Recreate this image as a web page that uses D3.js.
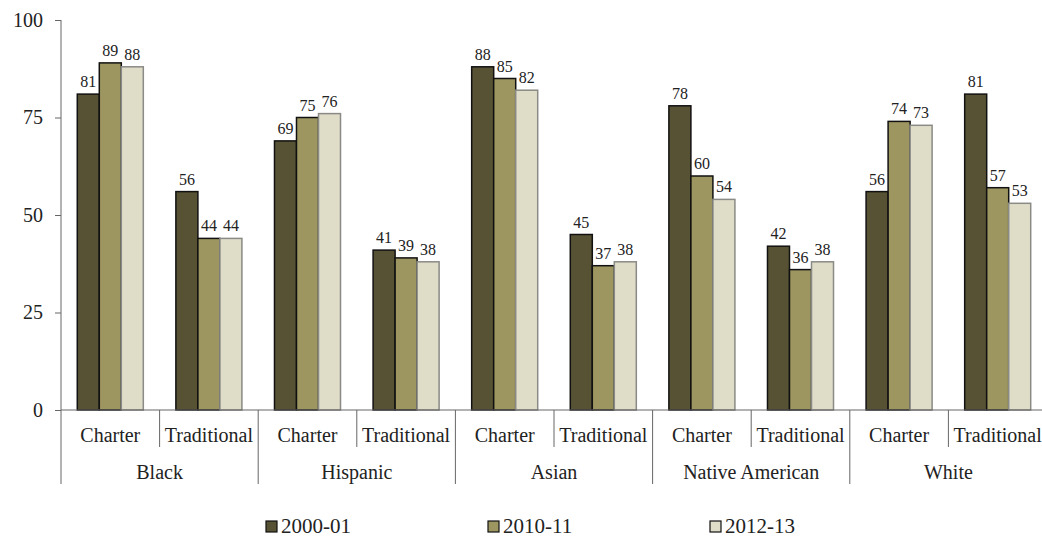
<!DOCTYPE html>
<html>
<head>
<meta charset="utf-8">
<script src="https://cdn.jsdelivr.net/npm/d3@7"></script>
<style>
  body { margin: 0; background: #fff; }
  svg text { font-family: "Liberation Serif", "DejaVu Serif", serif; fill: #222; }
</style>
</head>
<body>
<div id="chart"></div>
<script>
// data
const groups = ["Black", "Hispanic", "Asian", "Native American", "White"];
const schoolTypes = ["Charter", "Traditional"];
const series = ["2000-01", "2010-11", "2012-13"];
const yTicks = [0, 25, 50, 75, 100];

const v2000 = [81, 56, 69, 41, 88, 45, 78, 42, 56, 81];
const v2010 = [89, 44, 75, 39, 85, 37, 60, 36, 74, 57];
const v2012 = [88, 44, 76, 38, 82, 38, 54, 38, 73, 53];

const fills = ["#575234", "#9d9661", "#dfdcc8"];
const strokes = ["#111", "#111", "#8a8a86"];

const width = 1042, height = 538;
const plotLeft = 61, plotRight = 1047, plotTop = 20, plotBase = 410;
const serif = "'Liberation Serif', 'DejaVu Serif', serif";

const svg = d3.select("#chart").append("svg")
    .attr("width", width)
    .attr("height", height)
    .attr("font-family", serif);

// categories = every group x school type
const cats = [];
groups.forEach(g => schoolTypes.forEach(t => cats.push(g + "|" + t)));

const x = d3.scaleBand().domain(cats).range([plotLeft, plotRight]);
const xs = d3.scaleBand().domain(series).range([0, x.bandwidth()]).paddingOuter(0.74);
const y = d3.scaleLinear().domain([0, 100]).range([plotBase, plotTop]);

const values = [v2000, v2010, v2012];
const rows = [];
cats.forEach((c, i) => {
    series.forEach((s, j) => rows.push({ cat: c, s: s, j: j, v: values[j][i] }));
});

// bars
svg.append("g").selectAll("rect")
    .data(rows)
    .enter().append("rect")
    .attr("x", d => x(d.cat) + xs(d.s))
    .attr("y", d => y(d.v))
    .attr("width", xs.bandwidth())
    .attr("height", d => plotBase - y(d.v))
    .attr("fill", d => fills[d.j])
    .attr("stroke", d => strokes[d.j])
    .attr("stroke-width", 1.5);

// value labels
svg.append("g").selectAll("text")
    .data(rows)
    .enter().append("text")
    .attr("x", d => x(d.cat) + xs(d.s) + xs.bandwidth() / 2)
    .attr("y", d => y(d.v) - 7)
    .attr("text-anchor", "middle")
    .style("font-family", serif)
    .style("font-size", "16px")
    .text(d => d.v);

// y axis
const yAxis = svg.append("g").attr("transform", `translate(${plotLeft},0)`)
    .call(d3.axisLeft(y).tickValues(yTicks).tickSize(6).tickPadding(12));
yAxis.attr("font-family", serif);
yAxis.select(".domain").remove();
yAxis.selectAll("line").attr("stroke", "#666");
yAxis.selectAll("text")
    .style("font-size", "20px")
    .style("font-family", serif)
    .attr("fill", "#222");

svg.append("line")
    .attr("x1", plotLeft).attr("x2", plotLeft)
    .attr("y1", plotTop).attr("y2", 484)
    .attr("stroke", "#666");

// baseline
svg.append("line")
    .attr("x1", plotLeft).attr("x2", plotRight)
    .attr("y1", plotBase).attr("y2", plotBase)
    .attr("stroke", "#666");

// category dividers and labels
const gw = x.bandwidth() * 2;
groups.forEach((g, gi) => {
    const gx = x(g + "|Charter");
    svg.append("line")
        .attr("x1", gx + gw).attr("x2", gx + gw)
        .attr("y1", plotBase).attr("y2", 484)
        .attr("stroke", "#666");
    svg.append("line")
        .attr("x1", gx + x.bandwidth()).attr("x2", gx + x.bandwidth())
        .attr("y1", plotBase).attr("y2", 447)
        .attr("stroke", "#666");
    schoolTypes.forEach(t => {
        svg.append("text")
            .attr("x", x(g + "|" + t) + x.bandwidth() / 2)
            .attr("y", 442)
            .attr("text-anchor", "middle")
            .style("font-family", serif)
            .style("font-size", "20px")
            .text(t);
    });
    svg.append("text")
        .attr("x", gx + gw / 2)
        .attr("y", 479)
        .attr("text-anchor", "middle")
        .style("font-family", serif)
        .style("font-size", "20px")
        .text(g);
});

// legend
const legend = svg.append("g").selectAll("g")
    .data(series)
    .enter().append("g")
    .attr("transform", (d, i) => `translate(${266 + i * 222},521)`);

legend.append("rect")
    .attr("width", 11).attr("height", 11)
    .attr("fill", (d, i) => fills[i])
    .attr("stroke", "#111")
    .attr("stroke-width", 1.2);

legend.append("text")
    .attr("x", 15)
    .attr("y", 12)
    .style("font-family", serif)
    .style("font-size", "21px")
    .text(d => d);
</script>
</body>
</html>
